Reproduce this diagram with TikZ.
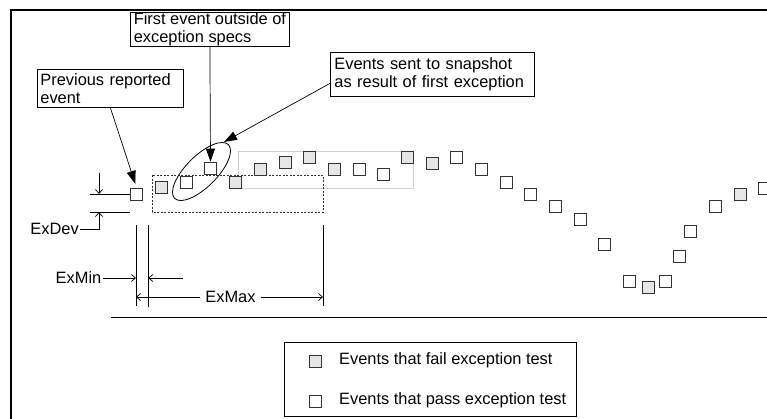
\documentclass[tikz,border=0pt]{standalone}
\usepackage{fontspec}
\setmainfont{Liberation Sans}
\usetikzlibrary{arrows.meta,shapes.geometric}
\definecolor{evgray}{HTML}{E6E6E6}
\definecolor{snapgray}{HTML}{CFCFCF}
\begin{document}
\begin{tikzpicture}[x=1pt,y=-1pt,
  font=\fontsize{16.4pt}{18.5pt}\selectfont,
  ev/.style={draw=black!80, line width=0.7pt, fill=white, minimum size=12pt, inner sep=0pt},
  evf/.style={ev, fill=evgray},
  callbox/.style={draw, line width=0.8pt, align=left, anchor=north west, inner ysep=0pt},
  callarrow/.style={-{Triangle[length=13pt,width=9pt]}, line width=0.7pt},
  dim/.style={line width=0.7pt},
  dimarrow/.style={dim, -{Straight Barb[length=4pt,width=7pt]}},
  lbl/.style={inner sep=1pt}
]
\useasboundingbox (0,0) rectangle (767,418);
\clip (0,0) rectangle (767,418);

% frame
\draw[line width=1.5pt] (11,420) -- (11,10) -- (770,10);
% base line
\draw[line width=0.8pt] (111,317) -- (770,317);

% snapshot region and dotted spec box
\draw[snapgray, line width=1pt] (238,151) rectangle (413,188);
\draw[black!80, line width=0.75pt, dash pattern=on 2pt off 1.5pt] (152,175) rectangle (323,212);

% events
\foreach \i/\x/\y/\s in {
  1/136.5/194/ev, 2/161/187.5/evf, 3/186/182/ev, 4/210.5/168/ev,
  5/235/182/evf, 6/260/169/evf, 7/285/162/evf, 8/309/157/evf,
  9/334/169/evf, 10/359/169/ev, 11/383/174/ev, 12/407.5/157.5/evf,
  13/432/163/evf, 14/456/157.5/ev, 15/481/169/ev, 16/506/182/ev,
  17/530/194/ev, 18/555.5/206.5/ev, 19/580/219/ev, 20/604.5/244/ev,
  21/629/281/ev, 22/648/287/evf, 23/665.5/281/ev, 24/679/256/ev,
  25/690.5/231/ev, 26/715.5/206.5/ev, 27/740.5/194/evf, 28/764/188.5/ev}
  \node[\s] (s\i) at (\x,\y) {};

% ellipse around events sent to snapshot
\node[draw, ellipse, line width=0.8pt, minimum width=76pt, minimum height=31pt,
      inner sep=0pt, rotate=45] (ell) at (201.5,171.5) {};
\coordinate (elltip) at (224,142);

% callouts
\node[callbox, text width=140pt, inner xsep=3pt, minimum height=38pt] (prev) at (37,69)
  {Previous reported\\event};
\node[callbox, minimum width=159pt, inner xsep=0pt, minimum height=34pt] (first) at (130,12)
  {First event outside of\\exception specs};
\node[callbox, text width=196pt, inner xsep=4pt, minimum height=44pt] (snap) at (330,52)
  {Events sent to snapshot\\as result of first exception};

\draw[callarrow, shorten >=4pt] (prev.south) -- (s1.north);
\draw[callarrow] (first.south) -- (s4.north);
\draw[callarrow] (snap.185) -- (elltip);

% ExDev
\coordinate (dva) at (90,194);
\coordinate (dvb) at (90,212);
\coordinate (dvbe) at (130,212);
\coordinate (dvtop) at (99,173);
\coordinate (dvup) at (99,194);
\coordinate (dvlo) at (99,212);
\draw[dim] (dva) -- (s1.west);
\draw[dim] (dvb) -- (dvbe);
\draw[dimarrow] (dvtop) -- (dvup);
\node[lbl, anchor=east] (exdev) at (80,229) {ExDev};
\draw[dimarrow] (exdev.east) -| (dvlo);

% ExMin / ExMax extension lines
\coordinate (v1t) at (136,225); \coordinate (v1b) at (136,306);
\coordinate (v2t) at (148.3,225); \coordinate (v2b) at (148.3,307);
\coordinate (v3t) at (323,225); \coordinate (v3b) at (323,306);
\draw[dim] (v1t) -- (v1b);
\draw[dim] (v2t) -- (v2b);
\draw[dim] (v3t) -- (v3b);

\node[lbl, anchor=east] (exmin) at (102.5,278) {ExMin};
\coordinate (mina) at (136,278);
\coordinate (minb) at (183,278);
\coordinate (minc) at (148.3,278);
\draw[dimarrow] (exmin.east) -- (mina);
\draw[dimarrow] (minb) -- (minc);

\node[inner xsep=5.5pt, inner ysep=1pt] (exmax) at (230.5,297) {ExMax};
\coordinate (maxa) at (136,297);
\coordinate (maxb) at (323,297);
\draw[dimarrow] (exmax.west) -- (maxa);
\draw[dimarrow] (exmax.east) -- (maxb);

% legend
\node[draw, line width=0.8pt, minimum width=292pt, minimum height=74pt, inner sep=0pt,
      anchor=north west] (legend) at (284,342) {};
\node[evf] (lgf) at (315,361) {};
\node[ev] (lgp) at (315,401) {};
\node[lbl, anchor=west] (lgft) at (338,360) {Events that fail exception test};
\node[lbl, anchor=west] (lgpt) at (338,400) {Events that pass exception test};
\end{tikzpicture}
\end{document}
